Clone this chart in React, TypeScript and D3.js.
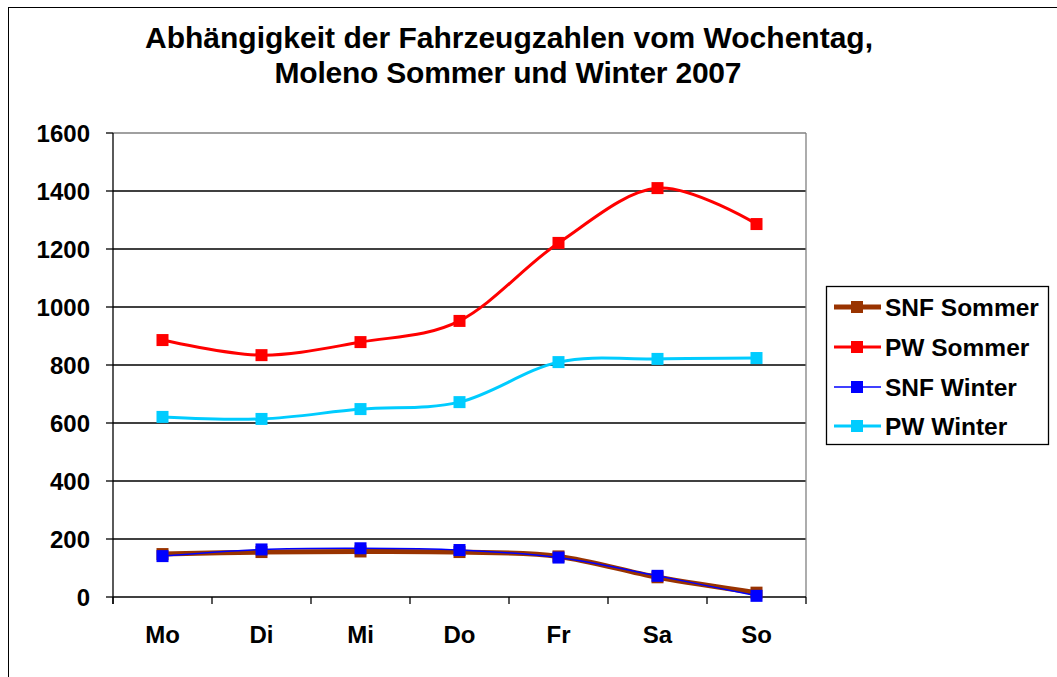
import React from "react";
import * as d3 from "d3";

const days = ["Mo", "Di", "Mi", "Do", "Fr", "Sa", "So"];
const snfSommer = [148, 155, 157, 155, 140, 68, 15];
const pwSommer = [886, 834, 879, 952, 1221, 1410, 1286];
const snfWinter = [141, 164, 168, 162, 136, 73, 4];
const pwWinter = [621, 614, 648, 672, 810, 821, 824];
const yTicks = [0, 200, 400, 600, 800, 1000, 1200, 1400, 1600];

const series = [
  { name: "SNF Sommer", values: snfSommer, color: "#993300", width: 5, marker: 12 },
  { name: "PW Sommer", values: pwSommer, color: "#FF0000", width: 3, marker: 12 },
  { name: "SNF Winter", values: snfWinter, color: "#0000FF", width: 1.5, marker: 12 },
  { name: "PW Winter", values: pwWinter, color: "#00CCFF", width: 3, marker: 12 },
];

export default function App() {
  const left = 113, right = 806, top = 133, bottom = 597;
  const x = d3.scaleBand().domain(days).range([left, right]);
  const y = d3.scaleLinear().domain([0, 1600]).range([bottom, top]);
  const line = d3
    .line<number>()
    .x((_, i) => x(days[i])! + x.bandwidth() / 2)
    .y((d) => y(d))
    .curve(d3.curveCardinal.tension(0));
  const font = "Arial, 'Liberation Sans', sans-serif";
  const ticksX = d3.range(days.length + 1).map((i) => left + i * x.step());
  return (
    <svg
      width={1057}
      height={677}
      style={{ position: "absolute", left: 0, top: 0, background: "#fff" }}
      fontFamily={font}
    >
      <rect x={8.5} y={7.5} width={1100} height={700} fill="#fff" stroke="#000" strokeWidth={1} />
      <text textAnchor="middle" fontWeight="bold" fontSize={30} fill="#000">
        <tspan x={509} y={48} textLength={728} lengthAdjust="spacing">Abhängigkeit der Fahrzeugzahlen vom Wochentag,</tspan>
        <tspan x={508} y={83} textLength={467} lengthAdjust="spacing">Moleno Sommer und Winter 2007</tspan>
      </text>
      {yTicks.map((t) => (
        <g key={t}>
          {t > 0 && (
            <line x1={left} x2={right} y1={y(t)} y2={y(t)} stroke={t === 1600 ? "#808080" : "#000"} strokeWidth={1.3} />
          )}
          <line x1={left - 7} x2={left} y1={y(t)} y2={y(t)} stroke="#000" strokeWidth={1.3} />
          <text x={90} y={y(t) + 9} textAnchor="end" fontWeight="bold" fontSize={24} fill="#000">
            {t}
          </text>
        </g>
      ))}
      <line x1={right} x2={right} y1={top} y2={bottom} stroke="#808080" strokeWidth={1.3} />
      <line x1={left} x2={left} y1={top} y2={bottom + 7} stroke="#000" strokeWidth={1.3} />
      <line x1={left} x2={right} y1={bottom} y2={bottom} stroke="#000" strokeWidth={1.3} />
      {ticksX.map((tx, i) => (
        <line key={i} x1={tx} x2={tx} y1={bottom} y2={bottom + 7} stroke="#000" strokeWidth={1.3} />
      ))}
      {days.map((d) => (
        <text key={d} x={x(d)! + x.bandwidth() / 2} y={643} textAnchor="middle" fontWeight="bold" fontSize={24} fill="#000">
          {d}
        </text>
      ))}
      {series.map((s) => (
        <g key={s.name}>
          <path d={line(s.values)!} fill="none" stroke={s.color} strokeWidth={s.width} />
          {s.values.map((v, i) => (
            <rect
              key={i}
              x={x(days[i])! + x.bandwidth() / 2 - s.marker / 2}
              y={y(v) - s.marker / 2}
              width={s.marker}
              height={s.marker}
              fill={s.color}
            />
          ))}
        </g>
      ))}
      <rect x={826.5} y={286.5} width={222} height={158} fill="#fff" stroke="#000" strokeWidth={1.3} />
      {series.map((s, i) => {
        const ly = [307, 347, 387, 426][i];
        return (
          <g key={s.name}>
            <line x1={834} x2={881} y1={ly} y2={ly} stroke={s.color} strokeWidth={s.width} />
            <rect x={851} y={ly - 6} width={12} height={12} fill={s.color} />
            <text x={885} y={ly + 9} fontWeight="bold" fontSize={24.5} fill="#000">
              {s.name}
            </text>
          </g>
        );
      })}
    </svg>
  );
}
